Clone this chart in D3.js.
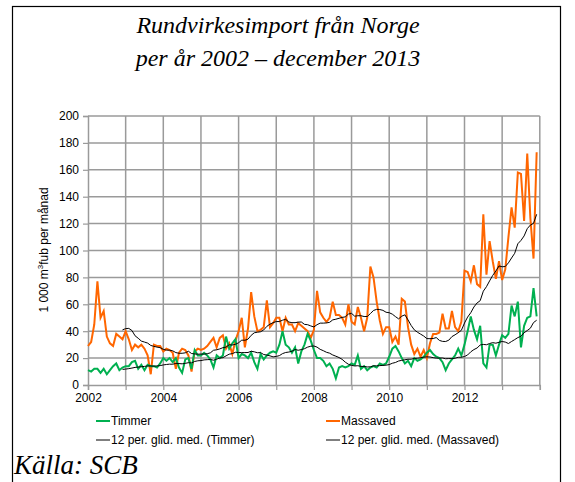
<!DOCTYPE html>
<html>
<head>
<meta charset="utf-8">
<script src="https://cdn.jsdelivr.net/npm/d3@7"></script>
<style>
  body { margin: 0; background: #fff; }
  svg { display: block; }
  .tick text { font-family: "Liberation Sans", Arial, sans-serif; font-size: 12px; fill: #000; }
</style>
</head>
<body>
<div id="chart"></div>
<script>
// monthly values, Jan 2002 - Dec 2013 (1 000 m3fub)
const years = [2002, 2003, 2004, 2005, 2006, 2007, 2008, 2009, 2010, 2011, 2012, 2013];
const xLabels = [2002, 2004, 2006, 2008, 2010, 2012];
const yTicks = [0, 20, 40, 60, 80, 100, 120, 140, 160, 180, 200];

const timmer = [
  11, 10, 12, 12, 9, 12, 8, 11, 14, 16, 11, 13,
  14, 14, 17, 18, 12, 15, 11, 15, 14, 14, 13, 16,
  20, 18, 20, 17, 20, 13, 9, 19, 20, 12, 26, 22,
  22, 24, 22, 19, 13, 22, 20, 22, 36, 27, 31, 34,
  20, 23, 22, 20, 24, 17, 12, 23, 19, 22, 24, 25,
  24, 30, 40, 30, 28, 24, 28, 16, 25, 30, 38, 33,
  26, 20, 20, 18, 14, 16, 12, 5, 13, 14, 13, 14,
  16, 15, 22, 12, 14, 11, 13, 14, 13, 16, 15, 16,
  21, 27, 29, 25, 20, 16, 18, 14, 20, 18, 19, 21,
  24, 26, 23, 21, 20, 17, 11, 16, 19, 22, 27, 22,
  30, 40, 51, 41, 34, 44, 16, 13, 30, 30, 22, 30,
  37, 35, 38, 59, 51, 62, 28, 44, 50, 51, 72, 51
];
const massaved = [
  29, 32, 45, 77, 50, 55, 36, 31, 29, 38, 36, 34,
  40, 34, 26, 30, 28, 30, 27, 22, 8, 30, 29, 29,
  25, 27, 26, 24, 12, 24, 27, 26, 22, 10, 25, 27,
  26, 27, 29, 32, 35, 28, 35, 37, 27, 31, 23, 33,
  40, 50, 28, 42, 69, 51, 40, 41, 43, 63, 43, 46,
  50, 50, 40, 50, 45, 45, 40, 46, 44, 42, 40, 35,
  41, 70, 54, 50, 47, 50, 62, 52, 52, 50, 45, 60,
  47, 45, 58, 50, 40, 50, 88, 80, 62, 48, 38, 43,
  43, 32, 36, 30, 64, 62, 43, 30, 23, 27, 21, 26,
  20, 31, 38, 38, 39, 53, 42, 42, 55, 43, 40, 47,
  85, 84, 77, 89, 75, 73, 127, 82, 107, 92, 79, 92,
  78, 86, 110, 132, 117, 158, 157, 122, 172, 124, 94, 173
];

const green = '#00b050', orange = '#ff6600';
const width = 575, height = 482;
const margin = { top: 116, left: 88, right: 35, bottom: 97 };

const svg = d3.select('#chart').append('svg')
  .attr('width', width).attr('height', height);

// frame
svg.append('rect')
  .attr('x', 12.5).attr('y', 6.5)
  .attr('width', 548).attr('height', 490)
  .attr('fill', 'none').attr('stroke', '#000').attr('stroke-width', 1.2);

// title
const title = svg.append('text')
  .attr('text-anchor', 'middle')
  .style('font-family', '"Liberation Serif", "Times New Roman", serif')
  .style('font-style', 'italic').style('font-size', '24px');
title.append('tspan').attr('x', 278).attr('y', 33).text('Rundvirkesimport från Norge');
title.append('tspan').attr('x', 278).attr('y', 66).text('per år 2002 – december 2013');

const x = d3.scaleLinear().domain([0, 144]).range([margin.left, width - margin.right - 0.2]);
const y = d3.scaleLinear().domain([0, 200]).range([385, margin.top]);

// grid
const grid = svg.append('g').attr('stroke', '#9a9a9a').attr('stroke-width', 1.5);
grid.selectAll('.hg').data(yTicks.slice(1)).enter().append('line')
  .attr('x1', x(0)).attr('x2', x(144))
  .attr('y1', d => y(d)).attr('y2', d => y(d));
grid.selectAll('.vg').data(years.slice(1).concat([2014])).enter().append('line')
  .attr('x1', d => x((d - 2002) * 12)).attr('x2', d => x((d - 2002) * 12))
  .attr('y1', y(0)).attr('y2', y(200));

// axes
const yAxis = d3.axisLeft(y).tickValues(yTicks).tickSize(5).tickPadding(4);
const gy = svg.append('g').attr('transform', `translate(${x(0)},0)`).call(yAxis);

const xAxis = d3.axisBottom(x)
  .tickValues(years.concat([2014]).map(d => (d - 2002) * 12))
  .tickSize(5).tickPadding(3)
  .tickFormat(d => xLabels.includes(2002 + d / 12) ? String(2002 + d / 12) : '');
const gx = svg.append('g').attr('transform', `translate(0,${y(0)})`).call(xAxis);

[gx, gy].forEach(g => {
  g.select('.domain').attr('stroke', '#9a9a9a').attr('stroke-width', 1.5);
  g.selectAll('.tick line').attr('stroke', '#9a9a9a').attr('stroke-width', 1.2);
});

// y title
const yt = svg.append('text')
  .attr('transform', 'translate(48,250) rotate(-90)')
  .attr('text-anchor', 'middle')
  .style('font-family', '"Liberation Sans", Arial, sans-serif').style('font-size', '12px');
yt.append('tspan').text('1 000 m');
yt.append('tspan').attr('dy', -5).style('font-size', '8px').text('3');
yt.append('tspan').attr('dy', 5).text('fub per månad');

// 12 month moving average
function movAvg(arr) {
  const out = [];
  for (let i = 11; i < arr.length; i++) {
    out.push([i, d3.mean(arr.slice(i - 11, i + 1))]);
  }
  return out;
}

const line = d3.line().x(d => x(d[0])).y(d => y(d[1]));
const toPts = arr => arr.map((v, i) => [i, v]);

svg.append('path').datum(toPts(massaved))
  .attr('d', line).attr('fill', 'none').attr('stroke', orange).attr('stroke-width', 2);
svg.append('path').datum(toPts(timmer))
  .attr('d', line).attr('fill', 'none').attr('stroke', green).attr('stroke-width', 2);
svg.append('path').datum(movAvg(massaved))
  .attr('d', line).attr('fill', 'none').attr('stroke', '#000').attr('stroke-width', 1);
svg.append('path').datum(movAvg(timmer))
  .attr('d', line).attr('fill', 'none').attr('stroke', '#000').attr('stroke-width', 1);

// legend
const legend = [
  { label: 'Timmer', color: green, lx: 96, ly: 421 },
  { label: 'Massaved', color: orange, lx: 326, ly: 421 },
  { label: '12 per. glid. med. (Timmer)', color: '#000', lx: 96, ly: 440 },
  { label: '12 per. glid. med. (Massaved)', color: '#000', lx: 326, ly: 440 }
];
const lg = svg.selectAll('.lg').data(legend).enter().append('g');
lg.append('line')
  .attr('x1', d => d.lx).attr('x2', d => d.lx + 14)
  .attr('y1', d => d.ly).attr('y2', d => d.ly)
  .attr('stroke', d => d.color).attr('stroke-width', d => d.color === '#000' ? 1 : 2);
lg.append('text')
  .attr('x', d => d.lx + 15).attr('y', d => d.ly + 4)
  .style('font-family', '"Liberation Sans", Arial, sans-serif').style('font-size', '12px')
  .text(d => d.label);

// source
svg.append('text')
  .attr('x', 14).attr('y', 474)
  .style('font-family', '"Liberation Serif", "Times New Roman", serif')
  .style('font-style', 'italic').style('font-size', '27px')
  .text('Källa: SCB');
</script>
</body>
</html>
